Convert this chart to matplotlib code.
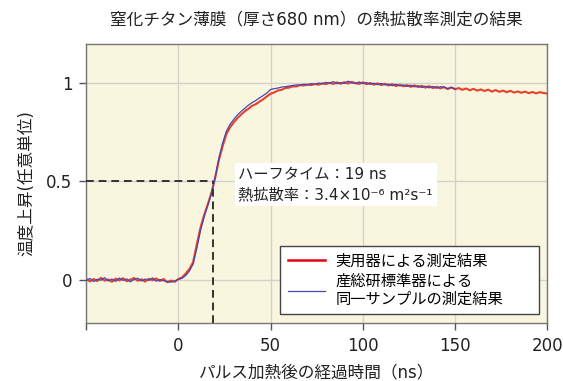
import numpy as np
import matplotlib
matplotlib.use("Agg")
import matplotlib.pyplot as plt

plt.rcParams['font.family'] = ['DejaVu Sans', 'Noto Sans CJK JP']

time_red = np.arange(-50, 201, 2)
rise_red = [
    0.005, -0.008, 0.004, -0.006, 0.010, -0.004, 0.002, -0.010, 0.006, -0.003,
    0.008, -0.007, 0.001, 0.009, -0.005, 0.003, -0.009, 0.005, -0.002, 0.007,
    -0.006, 0.004, -0.012, -0.004, -0.010, 0.004,
    0.012, 0.032, 0.055, 0.090, 0.180, 0.265, 0.330, 0.385, 0.445, 0.520,
    0.610, 0.680, 0.740, 0.775, 0.800, 0.822, 0.840, 0.857, 0.870, 0.885,
    0.893, 0.906, 0.918, 0.933, 0.946, 0.953, 0.963, 0.966, 0.975, 0.977,
    0.984, 0.983, 0.990, 0.988, 0.993, 0.990, 0.996, 0.992, 0.999, 0.995,
    1.002, 0.996, 1.004, 0.997, 1.005, 0.998, 1.006, 1.000, 0.996, 1.004,
    0.995, 1.001, 0.992, 0.999, 0.990, 0.997, 0.988, 0.995, 0.985, 0.992,
    0.984, 0.990, 0.981, 0.989, 0.980, 0.986, 0.977, 0.985, 0.975, 0.982,
    0.973, 0.980, 0.970, 0.978, 0.969, 0.975, 0.966, 0.973, 0.964, 0.971,
    0.962, 0.968, 0.960, 0.967, 0.957, 0.965, 0.956, 0.962, 0.954, 0.961,
    0.952, 0.958, 0.951, 0.957, 0.949, 0.955, 0.948, 0.954, 0.950, 0.947,
]

time_blue = np.arange(-50, 151, 2)
rise_blue = [
    -0.004, 0.007, -0.009, 0.003, -0.002, 0.011, -0.006, 0.004, -0.008, 0.009,
    -0.003, 0.005, -0.010, 0.002, 0.008, -0.006, 0.004, -0.003, 0.010, -0.007,
    0.002, -0.005, -0.009, -0.012, -0.006, 0.002,
    0.008, 0.022, 0.045, 0.080, 0.160, 0.250, 0.320, 0.380, 0.440, 0.525,
    0.620, 0.695, 0.755, 0.790, 0.815, 0.838, 0.856, 0.872, 0.888, 0.901,
    0.912, 0.925, 0.937, 0.950, 0.968, 0.972, 0.975, 0.980, 0.982, 0.985,
    0.988, 0.991, 0.990, 0.995, 0.991, 0.998, 0.993, 1.001, 0.996, 1.004,
    0.999, 1.008, 0.997, 1.003, 0.999, 1.010, 1.002, 0.999, 1.006, 0.998,
    1.003, 0.994, 1.000, 0.992, 0.998, 0.991, 0.995, 0.987, 0.994, 0.986,
    0.991, 0.983, 0.990, 0.981, 0.987, 0.978, 0.985, 0.976, 0.983, 0.974,
    0.982, 0.980, 0.972, 0.979, 0.971,
]

half_time = 19
xticks = [-50, 0, 50, 100, 150, 200]
xticklabels = ['', '0', '50', '100', '150', '200']
yticks = [0, 0.5, 1]
yticklabels = ['0', '0.5', '1']

fig = plt.figure(figsize=(5.63, 3.81), dpi=100)
ax = fig.add_axes([0.153, 0.152, 0.819, 0.733])
ax.set_facecolor('#f9f6e0')

ax.plot(time_blue, rise_blue, color='#4646b4', lw=0.9, zorder=3,
        label='産総研標準器による\n同一サンプルの測定結果')
ax.plot(time_red, rise_red, color='#e8402a', lw=1.5, zorder=2,
        label='実用器による測定結果')

ax.plot([-50, half_time], [0.5, 0.5], ls=(0, (4, 2.5)), color='#333333', lw=1.4, zorder=4)
ax.plot([half_time, half_time], [-0.22, 0.5], ls=(0, (4, 2.5)), color='#333333', lw=1.4, zorder=4)

ax.set_xlim(-50, 200)
ax.set_ylim(-0.22, 1.2)
ax.set_xticks(xticks)
ax.set_xticklabels(xticklabels, fontsize=12, color='#222222')
ax.set_yticks(yticks)
ax.set_yticklabels(yticklabels, fontsize=12, color='#222222')
ax.tick_params(direction='out', length=5, width=1, color='#555555', pad=5)
ax.grid(True, color='#d2d2cc', lw=1)
ax.set_axisbelow(True)
for s in ax.spines.values():
    s.set_color('#777777')
    s.set_linewidth(1)

ax.text(32.6, 0.485, 'ハーフタイム：19 ns\n熱拡散率：3.4×10⁻⁶ m²s⁻¹',
        fontsize=11, color='#222222', linespacing=1.45, va='center', ha='left',
        bbox=dict(boxstyle='square,pad=0.25', fc='white', ec='none'), zorder=5)

handles, labels = ax.get_legend_handles_labels()
leg = ax.legend(handles[::-1], labels[::-1], loc='lower left',
                bbox_to_anchor=(0.421, 0.032, 0.562, 0.265), mode='expand',
                fontsize=11, frameon=True, fancybox=False, framealpha=1,
                edgecolor='#444444', handlelength=2.4, handletextpad=0.7,
                borderpad=0.5, borderaxespad=0, labelspacing=0.35)
leg.get_frame().set_linewidth(1)
leg.legend_handles[0].set_color('#e60012')
leg.legend_handles[0].set_linewidth(1.8)

ax.set_title('窒化チタン薄膜（厚さ680 nm）の熱拡散率測定の結果', fontsize=12, pad=14, color='#222222')
ax.set_xlabel('パルス加熱後の経過時間（ns）', fontsize=12, labelpad=6, color='#222222')
ax.set_ylabel('温度上昇(任意単位)', fontsize=12, labelpad=8, color='#222222')

fig.savefig('out.png', dpi=100)
